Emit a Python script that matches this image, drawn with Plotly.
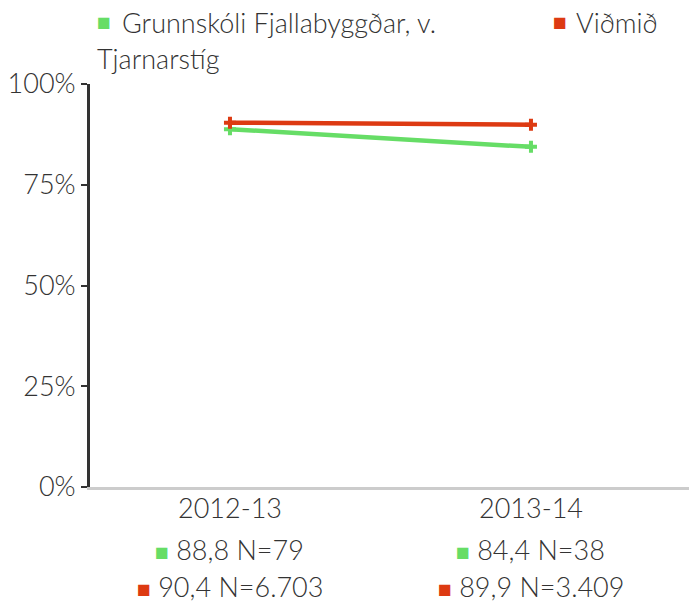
import plotly.graph_objects as go

categories = ["2012-13", "2013-14"]
school_name = "Grunnskóli Fjallabyggðar, v. Tjarnarstíg"
school_values = [88.8, 84.4]
school_n = ["79", "38"]
ref_name = "Viðmið"
ref_values = [90.4, 89.9]
ref_n = ["6.703", "3.409"]
y_ticks = [0, 25, 50, 75, 100]
y_tick_labels = ["0%", "25%", "50%", "75%", "100%"]

GREEN = "#66dd66"
RED = "#dd3a12"
TXT = "#333333"
FONT = "Lato"
FS = 27
FW = 300
SQ = 23

W, H = 689, 605
L, R, T, B = 90, 0, 84, 118

fig = go.Figure()
fig.add_trace(go.Scatter(x=categories, y=school_values, mode="lines+markers",
                         line=dict(color=GREEN, width=4.5),
                         marker=dict(symbol="cross", size=10, color=GREEN),
                         name=school_name, showlegend=False))
fig.add_trace(go.Scatter(x=categories, y=ref_values, mode="lines+markers",
                         line=dict(color=RED, width=4.5),
                         marker=dict(symbol="cross", size=10, color=RED),
                         name=ref_name, showlegend=False))

def px(xp):
    return (xp - L) / (W - L - R)

def py(yp):
    return (H - B - yp) / (H - T - B)

tf = dict(size=FS, color=TXT, family=FONT, weight=FW)
ann = []
# legend
ann.append(dict(x=px(95), y=py(22), text="■", font=dict(size=SQ, color=GREEN, family="DejaVu Sans")))
ann.append(dict(x=px(120), y=py(22), text=school_name.split(" Tjarn")[0], font=tf))
ann.append(dict(x=px(95), y=py(59), text="Tjarn" + school_name.split(" Tjarn")[1], font=tf))
ann.append(dict(x=px(551), y=py(22), text="■", font=dict(size=SQ, color=RED, family="DejaVu Sans")))
ann.append(dict(x=px(574), y=py(22), text=ref_name, font=tf))
for a in ann:
    a.update(xref="paper", yref="paper", xanchor="left", yanchor="middle", showarrow=False)

# table below categories
for i, c in enumerate(categories):
    for row, (vals, ns, col) in enumerate([(school_values, school_n, GREEN), (ref_values, ref_n, RED)]):
        val = f"{vals[i]:.1f}".replace(".", ",")
        ann.append(dict(x=c, xref="x", y=py(549 + row * 37), yref="paper",
                        text=f"<span style='color:{col};font-size:{SQ}px;font-family:DejaVu Sans'>■ </span>{val} N={ns[i]}",
                        font=tf, xanchor="center", yanchor="middle", showarrow=False))

fig.update_layout(
    width=W, height=H,
    margin=dict(l=L, r=R, t=T, b=B, pad=0),
    paper_bgcolor="white", plot_bgcolor="white",
    font=tf,
    annotations=ann,
    xaxis=dict(type="category", range=[-0.465, 1.525], showgrid=False, zeroline=False,
               showline=True, linecolor="#cccccc", linewidth=3,
               ticks="", tickfont=tf, ticklabelstandoff=-4),
    yaxis=dict(range=[0, 100], tickvals=y_ticks, ticktext=y_tick_labels,
               showgrid=False, zeroline=False, showline=True, linecolor=TXT, linewidth=3,
               ticks="outside", ticklen=6, tickcolor=TXT, tickwidth=1.5,
               tickfont=tf),
)

fig.write_html("out.html", config={"displayModeBar": False},
               post_script="document.body.style.margin='0';document.body.style.overflow='hidden';")
